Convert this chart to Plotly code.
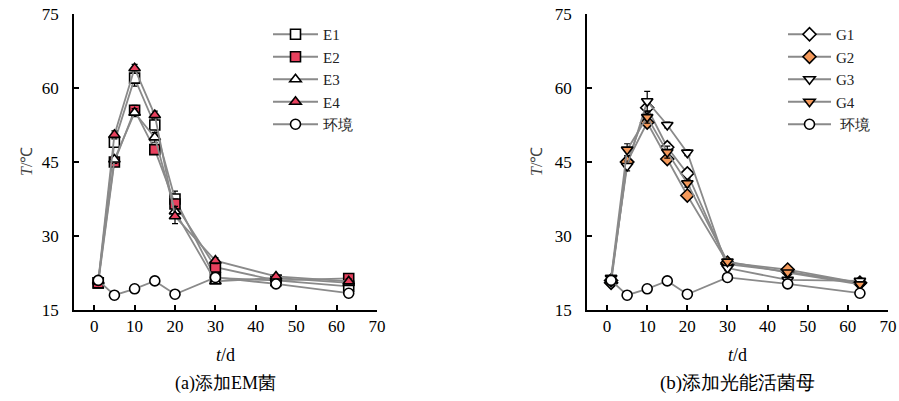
import plotly.graph_objects as go

# ---------------- data ----------------
t = [1, 5, 10, 15, 20, 30, 45, 63]
env = [21.0, 18.0, 19.3, 20.9, 18.2, 21.6, 20.3, 18.4]
env_err = [0.3, 0.3, 0.4, 0.3, 0.3, 0.4, 0.3, 0.4]

E1 = [20.5, 49.0, 62.0, 52.5, 37.5, 21.5, 21.0, 19.8]
E2 = [20.5, 45.0, 55.5, 47.5, 36.5, 23.7, 21.0, 21.4]
E3 = [21.0, 45.5, 55.0, 50.0, 35.0, 20.8, 21.5, 20.5]
E4 = [20.8, 50.5, 64.0, 54.5, 34.0, 25.0, 21.8, 20.8]
E1_err = [0.3, 1.0, 1.6, 0.8, 1.6, 0.5, 0.4, 0.4]
E2_err = [0.3, 0.8, 1.0, 0.6, 1.0, 0.6, 0.4, 0.5]
E3_err = [0.3, 0.8, 0.8, 1.0, 1.0, 0.4, 0.4, 0.4]
E4_err = [0.3, 0.8, 0.8, 0.8, 1.5, 0.6, 0.4, 0.5]

G1 = [20.5, 45.0, 56.0, 48.0, 42.7, 24.3, 22.8, 20.5]
G2 = [21.0, 45.0, 53.0, 45.6, 38.2, 24.6, 23.2, 20.5]
G3 = [21.5, 44.2, 57.3, 52.5, 46.9, 23.5, 21.1, 20.9]
G4 = [21.5, 47.5, 54.1, 47.0, 40.7, 24.8, 22.6, 20.2]
G1_err = [0.3, 1.0, 1.0, 1.0, 0.8, 0.4, 0.4, 0.4]
G2_err = [0.3, 0.8, 0.8, 0.8, 0.8, 0.4, 0.4, 0.4]
G3_err = [0.3, 1.0, 2.0, 0.6, 0.6, 0.5, 0.4, 0.4]
G4_err = [0.3, 1.2, 1.2, 1.2, 0.8, 0.4, 0.4, 0.4]

x_ticks = [0, 10, 20, 30, 40, 50, 60, 70]
y_ticks = [15, 30, 45, 60, 75]

# ---------------- style ----------------
RED = "#E8415E"
ORANGE = "#F4995A"
LINE = "#8A8A8A"
FONT = "Liberation Serif, Times New Roman, Times, serif"

fig = go.Figure()


def add(name, y, err, symbol, fill, xa, ya, legend):
    fig.add_trace(go.Scatter(
        x=t, y=y, name=name, mode="lines+markers",
        xaxis=xa, yaxis=ya, legend=legend,
        line=dict(color=LINE, width=1.8),
        marker=dict(symbol=symbol, size=10, color=fill,
                    line=dict(color="black", width=1.6)),
        error_y=dict(type="data", array=err, visible=True,
                     color="black", thickness=1.2, width=3),
    ))


add("E1", E1, E1_err, "square", "white", "x", "y", "legend")
add("E2", E2, E2_err, "square", RED, "x", "y", "legend")
add("E3", E3, E3_err, "triangle-up", "white", "x", "y", "legend")
add("E4", E4, E4_err, "triangle-up", RED, "x", "y", "legend")
add("环境", env, env_err, "circle", "white", "x", "y", "legend")

add("G1", G1, G1_err, "diamond", "white", "x2", "y2", "legend2")
add("G2", G2, G2_err, "diamond", ORANGE, "x2", "y2", "legend2")
add("G3", G3, G3_err, "triangle-down", "white", "x2", "y2", "legend2")
add("G4", G4, G4_err, "triangle-down", ORANGE, "x2", "y2", "legend2")
add(" 环境", env, env_err, "circle", "white", "x2", "y2", "legend2")

W, H = 899, 401
yd = [1 - 310 / H, 1 - 14 / H]

xcommon = dict(range=[-5, 70], tickvals=x_ticks, ticks="inside", ticklen=5,
               tickwidth=1.5, tickcolor="black", showline=True, linecolor="black",
               linewidth=1.6, showgrid=False, zeroline=False, automargin=False,
               ticklabelstandoff=0,
               tickfont=dict(family=FONT, size=17, color="black"))
ycommon = dict(range=[15, 75], tickvals=y_ticks, ticks="inside", ticklen=5,
               tickwidth=1.5, tickcolor="black", showline=True, linecolor="black",
               linewidth=1.6, showgrid=False, zeroline=False, automargin=False,
               ticklabelstandoff=10,
               tickfont=dict(family=FONT, size=17, color="black"))


def ann(text, x, y, size, angle=0, color="black"):
    return dict(text=text, x=x / W, y=1 - y / H, xref="paper", yref="paper",
                xanchor="center", yanchor="middle",
                showarrow=False, textangle=angle,
                font=dict(family=FONT, size=size, color=color))


fig.update_layout(
    width=W, height=H,
    margin=dict(l=0, r=0, t=0, b=0, autoexpand=False),
    paper_bgcolor="white", plot_bgcolor="white",
    font=dict(family=FONT, color="black"),
    xaxis=dict(domain=[74 / W, 377 / W], anchor="y", **xcommon),
    yaxis=dict(domain=yd, anchor="x", **ycommon),
    xaxis2=dict(domain=[587 / W, 888 / W], anchor="y2", **xcommon),
    yaxis2=dict(domain=yd, anchor="x2", **ycommon),
    legend=dict(x=268 / W, y=1 - 18 / H, xanchor="left", yanchor="top",
                bgcolor="rgba(0,0,0,0)", tracegroupgap=0, itemwidth=45,
                font=dict(family=FONT, size=15, color="#222")),
    legend2=dict(x=783 / W, y=1 - 18 / H, xanchor="left", yanchor="top",
                 bgcolor="rgba(0,0,0,0)", tracegroupgap=0, itemwidth=43,
                 font=dict(family=FONT, size=15, color="#222")),
    showlegend=True,
    annotations=[
        ann("<i>T</i>/℃", 27, 162, 16, -90, "#444"),
        ann("<i>T</i>/℃", 537, 162, 16, -90, "#444"),
        ann("<i>t</i>/d", 225, 355, 18),
        ann("<i>t</i>/d", 737, 355, 18),
        ann("(a)添加EM菌", 225, 383, 18),
        ann("(b)添加光能活菌母", 737, 383, 19),
    ],
)

fig.write_html("out.html")
